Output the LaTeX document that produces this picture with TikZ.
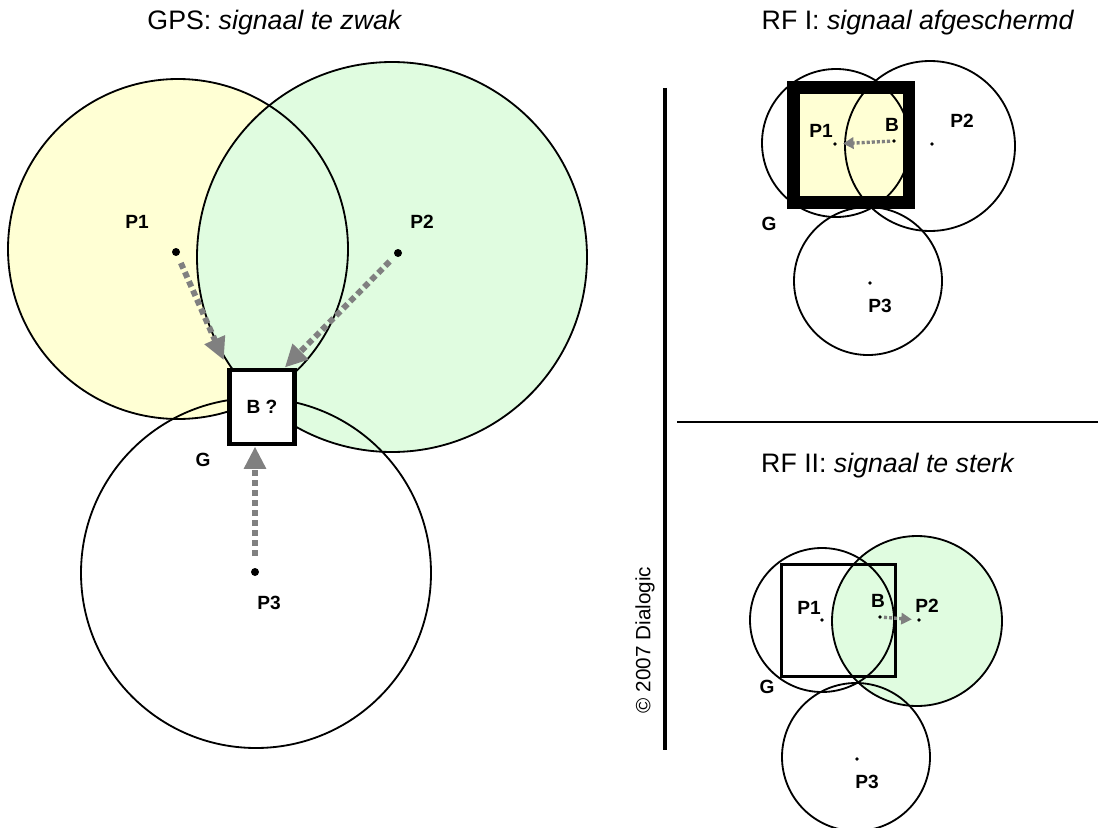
\documentclass[tikz,border=0pt]{standalone}
\usepackage{fontspec}
\setmainfont{Liberation Sans}
\usetikzlibrary{arrows.meta,positioning}
\definecolor{paleyellow}{RGB}{255,255,212}
\definecolor{palegreen}{RGB}{224,252,224}
\definecolor{arrowgray}{RGB}{128,128,128}

\begin{document}
\begin{tikzpicture}[x=0.025cm,y=-0.025cm,
    ring/.style={draw=black,line width=1.3pt},
    tag/.style={font=\fontsize{13.6}{15}\selectfont\bfseries,inner sep=0pt},
    heading/.style={font=\fontsize{19}{22}\selectfont,inner sep=0pt,anchor=base},
    bigpijl/.style={-{Triangle[length=16pt,width=15pt]},line width=4.2pt,
                    color=arrowgray,dash pattern=on 4.3pt off 2.8pt},
    smallpijl/.style={-{Triangle[length=7.5pt,width=8pt]},line width=2.4pt,
                      color=arrowgray,dash pattern=on 2.2pt off 1.4pt},
    yellowzone/.style={fill=paleyellow},
    greenzone/.style={fill=palegreen}]

  \useasboundingbox (0,0) rectangle (1098,828);

  %%% GPS
  \node[heading] (gpsTitle) at (275,30) {GPS: \textit{signaal te zwak}};
  \coordinate (gP1) at (176,252);
  \coordinate (gP2) at (398,253);
  \coordinate (gP3) at (255,572);
  \path[yellowzone] (178,249) circle[radius=170];
  \path[greenzone] (392,257) circle[radius=195];
  \draw[ring] (178,249) circle[radius=170];
  \draw[ring] (392,257) circle[radius=195];
  \draw[ring] (256,573) circle[radius=175];
  \node[draw=black,fill=white,line width=3.5pt,minimum width=1.625cm,
        minimum height=1.85cm,inner sep=0pt,
        font=\fontsize{13.6}{15}\selectfont\bfseries] (gpsB) at (262,407) {B ?};
  \fill (gP1) circle[radius=4];
  \fill (gP2) circle[radius=4];
  \fill (gP3) circle[radius=4];
  \draw[bigpijl,shorten <=3mm,shorten >=2mm] (gP1) -- (gpsB.north west);
  \draw[bigpijl,shorten <=3mm] (gP2) -- (gpsB.60);
  \draw[bigpijl,shorten <=4mm] (gP3) -- (gP3 |- gpsB.south);
  \node[tag] (gL1) at (137,222) {P1};
  \node[tag] (gL2) at (422,222) {P2};
  \node[tag] (gL3) at (269,603) {P3};
  \node[tag] (gG) at (203,460) {G};

  % dividers
  \draw[line width=3.2pt] (665,88) -- (665,750);
  \draw[line width=2.1pt] (677,422) -- (1098,422);
  \node[font=\fontsize{14.7}{16}\selectfont,rotate=90,inner sep=0pt] (copy) at (645,640)
    {\textcopyright\ 2007 Dialogic};

  %%% RF I
  \node[heading] (rfITitle) at (918,30) {RF I: \textit{signaal afgeschermd}};
  \coordinate (aP1) at (835,144);
  \coordinate (aP2) at (932,144);
  \coordinate (aP3) at (870,283);
  \coordinate (aB) at (894,141);
  \path[yellowzone] (793.5,87.5) rectangle (909,202.5);
  \draw[ring] (836,143) circle[radius=74];
  \draw[ring] (930,146) circle[radius=85];
  \draw[ring] (868,281) circle[radius=74];
  \draw[line width=9.2pt] (793.5,87.5) rectangle (909,202.5);
  \foreach \p in {aP1,aP2,aP3,aB}
    \fill (\p) circle[radius=1.8];
  \draw[smallpijl,shorten <=1mm,shorten >=2mm] (aB) -- (aP1);
  \node[tag] (aL1) at (821,131) {P1};
  \node[tag] (aLB) at (892,125) {B};
  \node[tag] (aL2) at (962,121) {P2};
  \node[tag] (aL3) at (880,306) {P3};
  \node[tag] (aG) at (769,224) {G};

  %%% RF II
  \node[heading] (rfIITitle) at (888,472) {RF II: \textit{signaal te sterk}};
  \coordinate (bP1) at (822,620);
  \coordinate (bP2) at (919,620);
  \coordinate (bP3) at (857,759);
  \coordinate (bB) at (880,617);
  \path[greenzone] (917,621) circle[radius=85];
  \draw[ring] (822,620) circle[radius=72];
  \draw[ring] (917,621) circle[radius=85];
  \draw[ring] (856,757) circle[radius=74];
  \draw[line width=2.1pt] (781.5,564.5) rectangle (895.5,676.5);
  \foreach \p in {bP1,bP2,bP3,bB}
    \fill (\p) circle[radius=1.8];
  \draw[smallpijl,shorten <=1mm,shorten >=1.8mm] (bB) -- (bP2);
  \node[tag] (bL1) at (809,608) {P1};
  \node[tag] (bLB) at (878,601) {B};
  \node[tag] (bL2) at (927,606) {P2};
  \node[tag] (bL3) at (867,782) {P3};
  \node[tag] (bG) at (767,687) {G};
\end{tikzpicture}
\end{document}
